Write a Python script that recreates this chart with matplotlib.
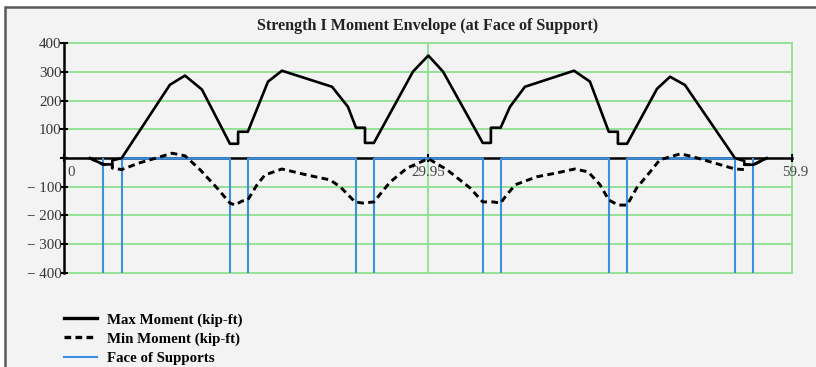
import matplotlib
matplotlib.use("Agg")
import matplotlib.pyplot as plt
from matplotlib.patches import Rectangle
from matplotlib.lines import Line2D

plt.rcParams['font.family'] = ['Liberation Serif', 'DejaVu Serif']

# ---- data ----
max_x = [2.1, 3.2, 3.95, 3.95, 4.72, 8.69, 9.93, 11.33, 13.63, 14.3, 14.3, 15.1,
         16.76, 17.91, 22.03, 23.34, 24.0, 24.74, 24.74, 25.47, 28.69, 29.95,
         31.16, 34.43, 35.1, 35.1, 35.9, 36.67, 37.9, 41.94, 43.25, 44.8, 45.55,
         45.55, 46.3, 48.77, 49.84, 51.07, 55.18, 55.95, 55.95, 56.7, 57.8]
max_y = [0, -22, -22, -8, 0, 256, 288, 239, 50, 50, 92, 92,
         267, 305, 249, 179, 106, 106, 53, 53, 302, 358,
         302, 53, 53, 106, 106, 179, 249, 305, 267, 92, 92,
         50, 50, 242, 284, 255, 0, -10, -23, -23, 0]

min_x = [2.1, 3.2, 3.95, 3.95, 4.72, 6.24, 7.3, 8.87, 9.93, 11.16, 12.56, 13.63,
         14.05, 14.62, 15.1, 15.86, 16.5, 17.9, 19.97, 21.86, 22.7, 23.92, 24.57,
         25.47, 26.8, 28.2, 29.95, 31.5, 33.38, 34.43, 35.3, 35.9, 36.26, 37.1,
         38.9, 40.5, 42.0, 43.1, 44.08, 44.8, 45.56, 46.3, 47.1, 48.2, 49.0, 50.7,
         51.7, 53.4, 55.18, 55.95, 55.95, 56.7, 57.8]
min_y = [0, -22, -22, -35, -40, -16, -3, 17, 8, -40, -104, -157,
         -164, -150, -146, -93, -59, -38, -59, -76, -100, -153, -157,
         -153, -84, -35, -2, -41, -104, -153, -153, -157, -136, -93,
         -65, -52, -38, -48, -93, -146, -164, -164, -104, -48, -6, 15,
         5, -16, -38, -40, -23, -23, 0]

supports = [3.2, 4.72, 13.6, 15.1, 24.0, 25.47, 34.43, 35.9, 44.8, 46.3, 55.18, 56.7]

x_ticks = [0, 29.95, 59.9]
x_tick_labels = ["0", "29.95", "59.9"]
y_ticks = [400, 300, 200, 100, 0, -100, -200, -300, -400]
y_tick_labels = ["400", "300", "200", "100", "", "\u2212 100", "\u2212 200", "\u2212 300", "\u2212 400"]

# ---- figure ----
W, H = 816, 367
fig = plt.figure(figsize=(W / 100, H / 100), dpi=100)
fig.patch.set_facecolor("white")
fig.add_artist(Rectangle((5 / W, -0.05), 1.0, 1.05 - 7 / H,
                         transform=fig.transFigure, facecolor="#f3f3f3",
                         edgecolor="#5a5a5a", linewidth=1.8, zorder=0))

ax = fig.add_axes([64.3 / W, (H - 272.7) / H, 728 / W, 229.2 / H])
ax.set_facecolor("none")
ax.set_xlim(0, 59.9)
ax.set_ylim(-400, 400)

green = "#8fe08f"
blue = "#3d8fe0"

# grid
for yv in [400, 300, 200, 100, -100, -200, -300, -400]:
    ax.axhline(yv, color=green, lw=1.3, zorder=1, clip_on=False)
for xv in [29.95, 59.9]:
    ax.axvline(xv, color=green, lw=1.3, zorder=1, clip_on=False)

# spines
for s in ["top", "right"]:
    ax.spines[s].set_visible(False)
ax.spines["bottom"].set_position(("data", 0))
ax.spines["left"].set_position(("data", 0))
ax.spines["bottom"].set_linewidth(1.8)
ax.spines["left"].set_linewidth(1.8)
ax.spines["bottom"].set_zorder(2)

ax.set_yticks(y_ticks)
ax.set_yticklabels(y_tick_labels)
ax.tick_params(axis="y", direction="inout", length=6, width=1.5, labelsize=10.8,
               labelcolor="#333333", pad=-1)
ax.set_xticks(x_ticks)
ax.set_xticklabels([])
ax.tick_params(axis="x", direction="inout", length=6, width=1.5)

ax.text(0.25, -50, x_tick_labels[0], ha="left", va="center", fontsize=10.8, color="#444444")
ax.text(x_ticks[1], -50, x_tick_labels[1], ha="center", va="center", fontsize=10.8, color="#444444")
ax.text(x_ticks[2] + 0.25, -50, x_tick_labels[2], ha="center", va="center", fontsize=10.8,
        color="#444444", clip_on=False)

# supports
ax.vlines(supports, -400, 0, color=blue, lw=1.5, zorder=3)
ax.hlines([0] * 5, supports[1:-1:2], supports[2::2], color=blue, lw=1.8, zorder=3)

# curves
ax.plot(max_x, max_y, color="black", lw=1.9, zorder=4)
ax.plot(min_x, min_y, color="black", lw=2.1, ls=(0, (2.3, 1.5)), zorder=4)

fig.text(428 / W, 1 - 26 / H, "Strength I Moment Envelope (at Face of Support)",
         ha="center", va="center", fontsize=11.6, fontweight="bold", color="#222222")

handles = [Line2D([], [], color="black", lw=2.4),
           Line2D([], [], color="black", lw=2.4, ls=(0, (2.0, 1.3))),
           Line2D([], [], color=blue, lw=1.5)]
labels = ["Max Moment (kip-ft)", "Min Moment (kip-ft)", "Face of Supports"]
fig.legend(handles, labels, loc="upper left", bbox_to_anchor=(64 / W, 1 - 313 / H),
           frameon=False, handlelength=2.2, handletextpad=0.7, labelspacing=0.38,
           borderpad=0, borderaxespad=0,
           prop={"family": "Liberation Serif", "weight": "bold", "size": 10.7})

fig.savefig("out.png", dpi=100)
